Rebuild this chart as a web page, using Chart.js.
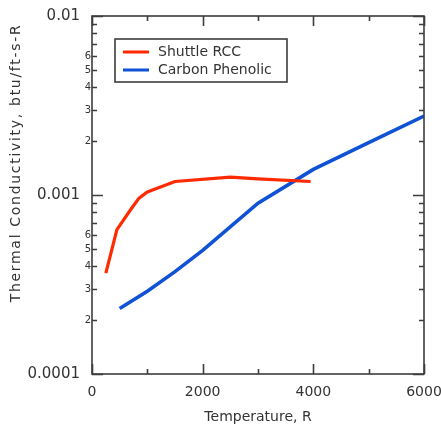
<!DOCTYPE html>
<html><head><meta charset="utf-8">
<script src="https://cdn.jsdelivr.net/npm/chart.js@4/dist/chart.umd.min.js"></script>
<style>html,body{margin:0;padding:0;background:#fff;overflow:hidden}#wrap{width:441px;height:425px;position:relative}</style>
</head><body><div id="wrap"><canvas id="c" width="441" height="425"></canvas></div>
<script>
// ---- data ----
const seriesNames = ['Shuttle RCC', 'Carbon Phenolic'];
const rccTemps = [250, 450, 700, 850, 1000, 1500, 2500, 3000, 3950];
const rccK     = [0.000366, 0.00064, 0.00083, 0.00096, 0.00104, 0.00119, 0.00126, 0.00123, 0.00119];
const cpTemps  = [500, 1000, 1500, 2000, 3000, 4000, 5000, 6000];
const cpK      = [0.000232, 0.00029, 0.000373, 0.00049, 0.0009, 0.00139, 0.00196, 0.00276];
const xLabelledTicks = [0, 2000, 4000, 6000];
const yDecades = [-4, -3, -2];
const yMajorLabels = ['0.0001', '0.001', '0.01'];
const yMinorMantissas = [2, 3, 4, 5, 6, 7, 8, 9];
const yMinorLabelDigits = [2, 3, 4, 5, 6];
const xTitle = 'Temperature, R';
const yTitle = 'Thermal Conductivity, btu/ft-s-R';

const FONT = "'DejaVu Sans', sans-serif";
const AXIS_COLOR = '#3c3c3c';
const TEXT_COLOR = '#333333';

const toXY = (xs, ys) => xs.map((x, i) => ({x: x, y: ys[i]}));

const framePlugin = {
  id: 'frame',
  afterDraw(chart) {
    const ctx = chart.ctx;
    const a = chart.chartArea;
    const xs = chart.scales.x, ys = chart.scales.y;
    ctx.save();
    ctx.strokeStyle = AXIS_COLOR;
    ctx.lineWidth = 1.6;
    ctx.strokeRect(a.left, a.top, a.right - a.left, a.bottom - a.top);
    ctx.fillStyle = TEXT_COLOR;
    ctx.textBaseline = 'middle';
    ctx.textAlign = 'right';
    const yTick = (v, len) => {
      const py = Math.round(ys.getPixelForValue(v)) + 0.5;
      ctx.beginPath();
      ctx.moveTo(a.left, py); ctx.lineTo(a.left + len, py);
      ctx.moveTo(a.right, py); ctx.lineTo(a.right - len, py);
      ctx.stroke();
      return py;
    };
    yDecades.forEach((e, i) => {
      const base = Math.pow(10, e);
      const py = yTick(base, 11);
      ctx.font = "15px " + FONT;
      ctx.fillText(yMajorLabels[i], a.left - 12, py);
      if (i < yDecades.length - 1) {
        yMinorMantissas.forEach(m => {
          const p = yTick(m * base, 5);
          if (yMinorLabelDigits.includes(m)) {
            ctx.font = "10px " + FONT;
            ctx.fillText(String(m), a.left - 1, p);
          }
        });
      }
    });
    // x ticks (inward, bottom and top)
    xs.ticks.forEach(t => {
      const px = Math.round(xs.getPixelForValue(t.value)) + 0.5;
      const len = xLabelledTicks.includes(t.value) ? 10 : 5;
      ctx.beginPath();
      ctx.moveTo(px, a.bottom); ctx.lineTo(px, a.bottom - len);
      ctx.moveTo(px, a.top); ctx.lineTo(px, a.top + len);
      ctx.stroke();
    });
    // y title
    ctx.save();
    ctx.translate(16, 163);
    ctx.rotate(-Math.PI / 2);
    ctx.textAlign = 'center';
    ctx.font = "14px " + FONT;
    try { ctx.letterSpacing = '1.7px'; } catch (err) {}
    ctx.fillText(yTitle, 0, 0);
    try { ctx.letterSpacing = '0px'; } catch (err) {}
    ctx.restore();
    // legend
    const lx = 115, ly = 39, lw = 172, lh = 43;
    ctx.lineWidth = 1.6;
    ctx.strokeStyle = AXIS_COLOR;
    ctx.strokeRect(lx, ly, lw, lh);
    ctx.textAlign = 'left';
    ctx.font = "14px " + FONT;
    chart.data.datasets.forEach((ds, i) => {
      const yy = ly + 13 + i * 18;
      ctx.strokeStyle = ds.borderColor;
      ctx.lineWidth = 3;
      ctx.beginPath();
      ctx.moveTo(lx + 8, yy); ctx.lineTo(lx + 34, yy);
      ctx.stroke();
      ctx.fillStyle = TEXT_COLOR;
      ctx.fillText(ds.label, lx + 43, yy);
    });
    ctx.restore();
  }
};

new Chart(document.getElementById('c'), {
  type: 'line',
  data: {
    datasets: [
      {label: seriesNames[0], data: toXY(rccTemps, rccK), borderColor: '#ff2a00', borderWidth: 3.2, pointRadius: 0, tension: 0, fill: false},
      {label: seriesNames[1], data: toXY(cpTemps, cpK), borderColor: '#0f52d6', borderWidth: 3.6, pointRadius: 0, tension: 0, fill: false}
    ]
  },
  options: {
    responsive: false,
    animation: false,
    devicePixelRatio: 1,
    layout: {padding: {left: 0, right: 17, top: 16, bottom: 0}},
    plugins: {legend: {display: false}, tooltip: {enabled: false}},
    scales: {
      x: {
        type: 'linear', position: 'bottom', min: 0, max: 6000,
        grid: {display: false, drawTicks: false},
        border: {display: false},
        ticks: {
          stepSize: 1000, autoSkip: false, maxRotation: 0, minRotation: 0, padding: 10,
          color: TEXT_COLOR, font: {family: FONT, size: 14},
          callback: v => xLabelledTicks.includes(v) ? String(v) : ''
        },
        title: {display: true, text: xTitle, color: TEXT_COLOR, font: {family: FONT, size: 14}, padding: {top: 0, bottom: -1}},
        afterFit: s => { s.height = 51; s.paddingLeft = 0; s.paddingRight = 0; }
      },
      y: {
        type: 'logarithmic', position: 'left', min: 0.0001, max: 0.01,
        grid: {display: false, drawTicks: false},
        border: {display: false},
        ticks: {display: false},
        afterFit: s => { s.width = 92; s.paddingTop = 0; s.paddingBottom = 0; }
      }
    }
  },
  plugins: [framePlugin]
});
</script>
</body></html>
